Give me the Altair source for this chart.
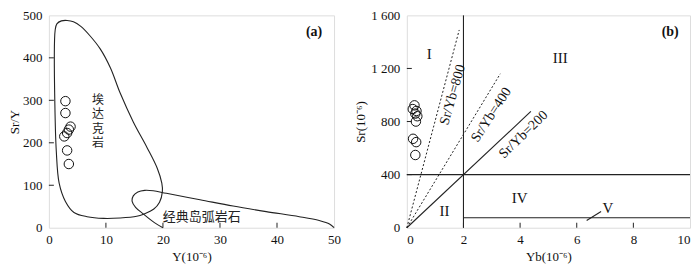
import altair as alt
import pandas as pd

# ---------------- Panel (a): Sr/Y vs Y ----------------
a_y = [2.9, 2.9, 3.8, 3.5, 3.2, 2.7, 3.2, 3.5]
a_sry = [298, 270, 238, 231, 223, 215, 182, 150]

adakite_x = [1.05, 1.1, 1.4, 2.2, 3.2, 4.3, 5.6, 7.2, 9.0, 10.8, 12.5, 14.8, 17.2, 19.0,
             19.8, 19.9, 19.4, 18.4, 16.6, 15.4, 12.5, 9.6, 6.7, 4.4, 2.9, 1.8, 1.3, 1.05]
adakite_y = [290, 465, 480, 487, 488, 485, 474, 452, 421, 376, 317, 249, 189, 140,
             105, 85, 60, 44, 32, 27, 23, 22, 26, 36, 62, 105, 180, 290]

arc_x = [20, 18.5, 16.6, 15.2, 14.6, 14.8, 15.6, 16.8, 18.3, 20.6, 26.5, 32.3, 38.1, 43.9, 47.4, 49.2, 50]
arc_y = [0, 12, 32, 48, 62, 75, 84, 88, 87, 81, 66, 51, 38, 26, 17, 9, 0]

adakite_label = ["埃", "达", "克", "岩"]

a_xticks = [0, 10, 20, 30, 40, 50]
a_yticks = [0, 100, 200, 300, 400, 500]
a_inner_x = [10, 20, 30, 40]
a_inner_y = [100, 200, 300, 400]

# ---------------- Panel (b): Sr vs Yb ----------------
b_yb = [0.27, 0.21, 0.34, 0.30, 0.37, 0.32, 0.22, 0.33, 0.30]
b_sr = [922, 894, 880, 860, 840, 800, 670, 645, 548]

# solid boundary segments: x, y, x2, y2
solid_x1 = [2, 0, 2, 0, 6.35]
solid_y1 = [0, 400, 75, 0, 55]
solid_x2 = [2, 10, 10, 4.38, 6.86]
solid_y2 = [1600, 400, 75, 876, 122]
# dashed reference lines (Sr/Yb = 800, 400)
dash_x1 = [0, 0]
dash_y1 = [0, 0]
dash_x2 = [1.85, 3.3]
dash_y2 = [1490, 1160]

b_xticks = [0, 2, 4, 6, 8, 10]
b_yticks = [0, 400, 800, 1200, 1600]
b_inner_x = [2, 4, 6, 8]
b_inner_y = [400, 800, 1200]

SERIF = "Liberation Serif"
CJK = "Noto Sans CJK SC"
W_A, W_B, H = 286, 284, 213


def xenc(domain, title, values, flush=False):
    return alt.X("x:Q", scale=alt.Scale(domain=domain, nice=False, zero=False),
                 axis=alt.Axis(title=title, values=values, ticks=False, tickSize=0, grid=False,
                               domain=False, labelPadding=6, titlePadding=4, labelFlush=flush,
                               labelFont=SERIF, titleFont=SERIF, labelFontSize=13,
                               titleFontSize=13, titleFontWeight="normal", labelColor="#111",
                               titleColor="#111"))


def yenc(domain, title, values, labelExpr=None, titlePad=1):
    kw = dict(title=title, values=values, ticks=False, tickSize=0, grid=False, domain=False,
              labelPadding=7, titlePadding=titlePad, labelFont=SERIF, titleFont=SERIF,
              labelFontSize=13, titleFontSize=13, titleFontWeight="normal",
              labelColor="#111", titleColor="#111")
    if labelExpr:
        kw["labelExpr"] = labelExpr
    return alt.Y("y:Q", scale=alt.Scale(domain=domain, nice=False, zero=False),
                 axis=alt.Axis(**kw))


# ---- panel a layers ----
AX = lambda: xenc([0, 50], "Y(10⁻⁶)", a_xticks)
AY = lambda: yenc([0, 500], "Sr/Y", a_yticks)

ada_df = pd.DataFrame({"x": adakite_x, "y": adakite_y, "o": list(range(len(adakite_x)))})
arc_df = pd.DataFrame({"x": arc_x, "y": arc_y, "o": list(range(len(arc_x)))})
pts_a = pd.DataFrame({"x": a_y, "y": a_sry})

a_ada = alt.Chart(ada_df).mark_line(color="#222", strokeWidth=1.1, interpolate="catmull-rom").encode(
    x=AX(), y=AY(), order="o:Q")
a_arc = alt.Chart(arc_df).mark_line(color="#222", strokeWidth=1.1, interpolate="catmull-rom").encode(
    x=AX(), y=AY(), order="o:Q")
a_pts = alt.Chart(pts_a).mark_point(shape="circle", filled=False, color="#111", size=90,
                                    strokeWidth=1, opacity=1).encode(x=AX(), y=AY())
a_tx = alt.Chart(pd.DataFrame({"x": a_inner_x})).mark_rule(color="#222").encode(
    x=AX(), y=alt.value(H), y2=alt.value(H - 5))
a_ty = alt.Chart(pd.DataFrame({"y": a_inner_y})).mark_rule(color="#222").encode(
    y=AY(), x=alt.value(0), x2=alt.value(5))

char_layers = []
for i, ch in enumerate(adakite_label):
    char_layers.append(
        alt.Chart(pd.DataFrame({"x": [8.6], "y": [250], "t": [ch]})).mark_text(
            font=CJK, fontSize=12, color="#222", dy=(i - 1.5) * 14.5).encode(
            x=AX(), y=AY(), text="t:N"))

a_lab2 = alt.Chart(pd.DataFrame({"x": [26.8], "y": [25], "t": ["经典岛弧岩石"]})).mark_text(
    font=CJK, fontSize=13, color="#222").encode(x=AX(), y=AY(), text="t:N")
a_lab3 = alt.Chart(pd.DataFrame({"x": [46.5], "y": [460], "t": ["(a)"]})).mark_text(
    font=SERIF, fontSize=14, fontWeight="bold", color="#111").encode(x=AX(), y=AY(), text="t:N")

panel_a = alt.layer(a_ada, a_arc, a_pts, a_tx, a_ty, *char_layers, a_lab2, a_lab3).properties(
    width=W_A, height=H)

# ---- panel b layers ----
BX = lambda: xenc([0, 10], "Yb(10⁻⁶)", b_xticks, flush=True)
BY = lambda: yenc([0, 1600], "Sr(10⁻⁶)", b_yticks,
                  labelExpr="datum.value == 1200 ? '1 200' : datum.value == 1600 ? '1 600' : datum.label",
                  titlePad=3)

solid_df = pd.DataFrame({"x": solid_x1, "y": solid_y1, "x2": solid_x2, "y2": solid_y2})
dash_df = pd.DataFrame({"x": dash_x1, "y": dash_y1, "x2": dash_x2, "y2": dash_y2})
pts_b = pd.DataFrame({"x": b_yb, "y": b_sr})

b_solid = alt.Chart(solid_df).mark_rule(color="#222", strokeWidth=1.1).encode(
    x=BX(), y=BY(), x2="x2:Q", y2="y2:Q")
b_dash = alt.Chart(dash_df).mark_rule(color="#222", strokeWidth=1, strokeDash=[2, 2]).encode(
    x=BX(), y=BY(), x2="x2:Q", y2="y2:Q")
b_pts = alt.Chart(pts_b).mark_point(shape="circle", filled=False, color="#111", size=90,
                                    strokeWidth=1, opacity=1).encode(x=BX(), y=BY())
b_tx = alt.Chart(pd.DataFrame({"x": b_inner_x})).mark_rule(color="#222").encode(
    x=BX(), y=alt.value(H), y2=alt.value(H - 5))
b_ty = alt.Chart(pd.DataFrame({"y": b_inner_y})).mark_rule(color="#222").encode(
    y=BY(), x=alt.value(0), x2=alt.value(5))

roman_df = pd.DataFrame({"x": [0.79, 5.42, 1.33, 3.98, 7.1],
                         "y": [1312, 1281, 127, 223, 146],
                         "t": ["I", "III", "II", "IV", "V"]})
b_roman = alt.Chart(roman_df).mark_text(font=SERIF, fontSize=15, color="#111").encode(
    x=BX(), y=BY(), text="t:N")
b_l800 = alt.Chart(pd.DataFrame({"x": [1.62], "y": [1001], "t": ["Sr/Yb=800"]})).mark_text(
    font=SERIF, fontSize=14, angle=286, color="#111").encode(x=BX(), y=BY(), text="t:N")
b_l400 = alt.Chart(pd.DataFrame({"x": [2.98], "y": [850], "t": ["Sr/Yb=400"]})).mark_text(
    font=SERIF, fontSize=14, angle=303, color="#111").encode(x=BX(), y=BY(), text="t:N")
b_l200 = alt.Chart(pd.DataFrame({"x": [4.12], "y": [702], "t": ["Sr/Yb=200"]})).mark_text(
    font=SERIF, fontSize=14, angle=316, color="#111").encode(x=BX(), y=BY(), text="t:N")
b_lab = alt.Chart(pd.DataFrame({"x": [9.3], "y": [1473], "t": ["(b)"]})).mark_text(
    font=SERIF, fontSize=14, fontWeight="bold", color="#111").encode(x=BX(), y=BY(), text="t:N")

panel_b = alt.layer(b_solid, b_dash, b_pts, b_tx, b_ty, b_roman, b_l800, b_l400, b_l200,
                    b_lab).properties(width=W_B, height=H)

chart = alt.hconcat(panel_a, panel_b, spacing=13).properties(
    padding={"left": 0, "top": 0, "right": 0, "bottom": 0}
).configure_view(stroke="#222", strokeWidth=1.1).configure(background="white")

chart.save("out.html", embed_options={"renderer": "svg", "actions": False})
